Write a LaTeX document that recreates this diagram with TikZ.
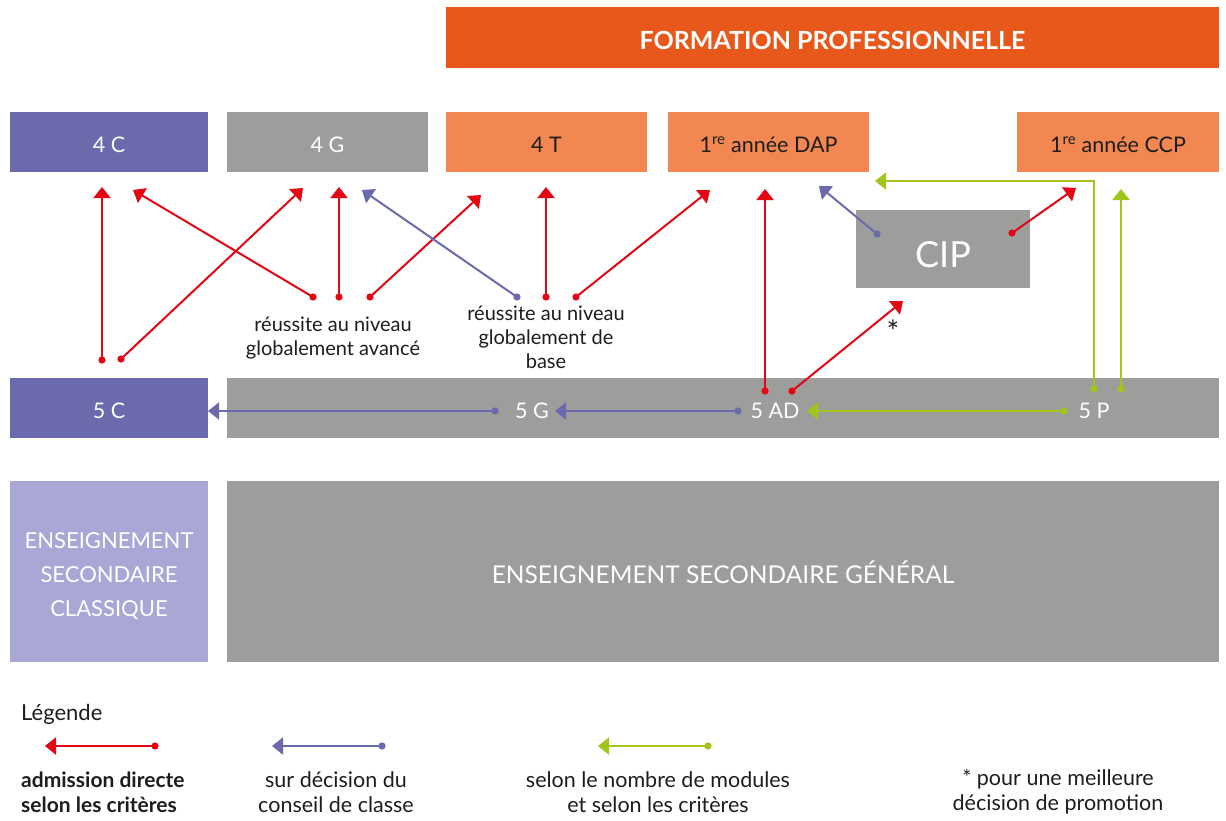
\documentclass[tikz,border=0pt]{standalone}
\usepackage{fontspec}
\setmainfont{Lato}
\usetikzlibrary{arrows.meta}
\definecolor{orD}{HTML}{E8581A}
\definecolor{orL}{HTML}{F28751}
\definecolor{pur}{HTML}{6A6AAD}
\definecolor{gry}{HTML}{9D9D9C}
\definecolor{lpur}{HTML}{A9A7D6}
\definecolor{rd}{HTML}{E30613}
\definecolor{grn}{HTML}{A2C519}
\definecolor{txt}{HTML}{1D1D1B}
\begin{document}
\begin{tikzpicture}[x=1pt,y=-1pt,
  box/.style={inner sep=0pt, minimum height=60pt, text height=21pt, text depth=0pt,
              font=\fontsize{21.5}{24}\selectfont},
  lbl/.style={inner sep=0pt, text=white, font=\fontsize{21.5}{24}\selectfont},
  note/.style={inner sep=0pt, text=txt, align=center, font=\fontsize{20}{24}\selectfont},
  leg/.style={inner sep=0pt, text=txt, align=center, font=\fontsize{21.5}{25}\selectfont},
  conn/.style={line width=2pt, -{Triangle[length=11pt,width=17pt]}},
]
\useasboundingbox (0,0) rectangle (1226,820);

% header
\node[inner sep=0pt, fill=orD, minimum width=773pt, minimum height=61pt, text=white,
      text height=24pt, text depth=0pt,
      font=\fontsize{25}{28}\selectfont\bfseries] (fp) at (832.5,37.5) {FORMATION PROFESSIONNELLE};

% top row
\node[box, fill=pur, text=white, minimum width=198pt] (c4) at (109,142) {4 C};
\node[box, fill=gry, text=white, minimum width=201pt] (g4) at (327.5,142) {4 G};
\node[box, fill=orL, text=txt, minimum width=201pt] (t4) at (546.5,142) {4 T};
\node[box, fill=orL, text=txt, minimum width=201pt] (dap) at (768.5,142) {1\textsuperscript{re} année DAP};
\node[box, fill=orL, text=txt, minimum width=202pt] (ccp) at (1118,142) {1\textsuperscript{re} année CCP};

% CIP
\node[inner sep=0pt, fill=gry, text=white, minimum width=174pt, minimum height=78pt,
      text height=37pt, text depth=0pt,
      font=\fontsize{36}{40}\selectfont] (cip) at (943,249) {CIP};

% row 5
\node[box, fill=pur, text=white, minimum width=198pt] (c5) at (109,408) {5 C};
\node[inner sep=0pt, fill=gry, minimum width=992pt, minimum height=60pt] (bar5) at (723,408) {};
\node[lbl] (g5) at (532,411) {5 G};
\node[lbl] (ad5) at (775,411) {5 AD};
\node[lbl] (p5) at (1094,411) {5 P};

% bottom
\node[inner sep=0pt, fill=lpur, minimum width=198pt, minimum height=181pt] (esc) at (109,571.5) {};
\node[inner sep=0pt, text=white, align=center,
      font=\fontsize{22}{34}\selectfont] (esct) at (109,576) {ENSEIGNEMENT\\SECONDAIRE\\CLASSIQUE};
\node[inner sep=0pt, fill=gry, text=white, minimum width=992pt, minimum height=181pt,
      text height=24pt, text depth=0pt,
      font=\fontsize{24.5}{28}\selectfont] (esg) at (723,571.5) {ENSEIGNEMENT SECONDAIRE GÉNÉRAL};

% notes
\node[note] (nav) at (333,338) {réussite au niveau\\globalement avancé};
\node[note] (nba) at (546,337) {réussite au niveau\\globalement de\\base};
\node[inner sep=0pt, text=txt, font=\fontsize{30}{32}\selectfont] (star) at (893,331) {*};

% coordinates: dots
\coordinate (d1) at (102,360);
\coordinate (d2) at (121,359);
\coordinate (d3) at (313,297);
\coordinate (d4) at (339,297);
\coordinate (d5) at (370,297);
\coordinate (d6) at (517,297);
\coordinate (d7) at (546,297);
\coordinate (d8) at (576,297);
\coordinate (d9) at (765,391);
\coordinate (d10) at (792,391);
\coordinate (d11) at (877,234);
\coordinate (d12) at (1012,233);
\coordinate (d13) at (1094,389);
\coordinate (d14) at (1121,389);
\coordinate (d15) at (495,411);
\coordinate (d16) at (738,411);
\coordinate (d17) at (1064,411);
% tips
\coordinate (t1) at (102,187);
\coordinate (t2) at (303,188);
\coordinate (t3) at (133,190);
\coordinate (t4) at (339,187);
\coordinate (t5) at (481,195);
\coordinate (t6) at (362,190);
\coordinate (t7) at (546,187);
\coordinate (t8) at (710,190);
\coordinate (t9) at (765,189);
\coordinate (t10) at (903,301);
\coordinate (t11) at (819,186);
\coordinate (t12) at (1076,188);
\coordinate (b13) at (1094,181);
\coordinate (t13) at (875,181);
\coordinate (t14) at (1121,189);
\coordinate (t15) at (208,411);
\coordinate (t16) at (555,411);
\coordinate (t17) at (807,411);

% red
\foreach \i in {1,2,3,4,5,7,8,9,10,12}{
  \draw[conn, rd] (d\i) -- (t\i);
  \fill[rd] (d\i) circle (3.6pt);
}
% blue
\foreach \i in {6,11}{
  \draw[conn, pur] (d\i) -- (t\i);
  \fill[pur] (d\i) circle (3.6pt);
}
\foreach \i in {15,16}{
  \draw[conn, pur, line width=1.7pt] (d\i) -- (t\i);
  \fill[pur] (d\i) circle (3.6pt);
}
% green
\draw[conn, grn] (d13) -- (b13) -- (t13);
\fill[grn] (d13) circle (3.6pt);
\draw[conn, grn] (d14) -- (t14);
\fill[grn] (d14) circle (3.6pt);
\draw[conn, grn, line width=1.7pt] (d17) -- (t17);
\fill[grn] (d17) circle (3.6pt);

% legend
\node[inner sep=0pt, anchor=west, text=txt, font=\fontsize{22}{24}\selectfont] (legt) at (21,714) {Légende};
\coordinate (ld1) at (155,746); \coordinate (lt1) at (45,746);
\coordinate (ld2) at (382,746); \coordinate (lt2) at (272,746);
\coordinate (ld3) at (708,746); \coordinate (lt3) at (598,746);
\draw[conn, rd] (ld1) -- (lt1); \fill[rd] (ld1) circle (3.6pt);
\draw[conn, pur] (ld2) -- (lt2); \fill[pur] (ld2) circle (3.6pt);
\draw[conn, grn] (ld3) -- (lt3); \fill[grn] (ld3) circle (3.6pt);
\node[leg, anchor=west, align=left, font=\fontsize{21}{25}\selectfont\bfseries] (l1) at (21,792) {admission directe\\selon les critères};
\node[leg] (l2) at (336,792) {sur décision du\\conseil de classe};
\node[leg] (l3) at (658,792) {selon le nombre de modules\\et selon les critères};
\node[leg] (l4) at (1058,792) {* pour une meilleure\\décision de promotion};
\end{tikzpicture}
\end{document}
